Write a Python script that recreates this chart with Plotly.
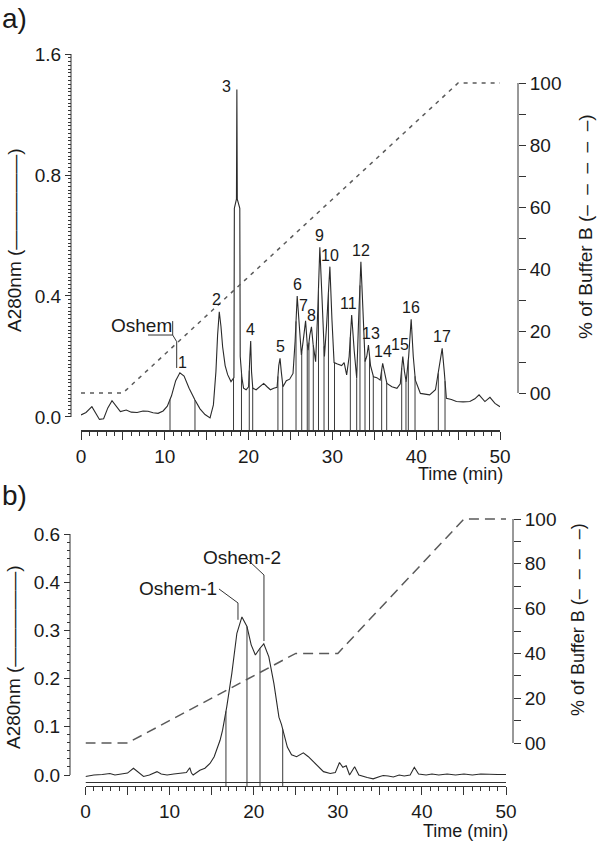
import numpy as np
import plotly.graph_objects as go

# ---------------- data: panel a ----------------
time_a = [0.0, 0.6, 1.3, 1.8, 2.2, 2.7, 3.2, 3.7, 4.2, 4.7, 5.4, 6.0, 6.7, 7.4, 8.0, 8.6, 9.2, 9.8,
          10.3, 10.8, 11.3, 11.8, 12.3, 12.9, 13.6, 14.2, 14.8, 15.4, 15.8, 16.1, 16.3, 16.5, 16.7,
          16.9, 17.2, 17.5, 17.9, 18.25, 18.3, 18.55, 18.6, 18.65, 18.95, 19.0, 19.2, 19.4, 19.7,
          20.0, 20.15, 20.25, 20.35, 20.5, 20.9, 21.3, 21.8, 22.2, 22.6, 23.0, 23.4, 23.6, 23.75,
          23.9, 24.1, 24.5, 24.9, 25.3, 25.55, 25.8, 26.0, 26.3, 26.55, 26.8, 27.0, 27.1, 27.3,
          27.5, 27.7, 28.0, 28.25, 28.5, 28.75, 29.05, 29.3, 29.7, 29.95, 30.2, 30.6, 31.1, 31.4,
          31.7, 32.0, 32.3, 32.6, 32.9, 33.1, 33.4, 33.65, 33.9, 34.1, 34.3, 34.55, 34.9, 35.3,
          35.7, 36.0, 36.25, 36.5, 37.1, 37.7, 38.1, 38.4, 38.6, 38.8, 39.1, 39.4, 39.65, 39.9,
          40.5, 41.0, 41.6, 42.3, 42.8, 43.1, 43.35, 43.6, 44.2, 44.8, 45.6, 46.4, 47.0, 47.5,
          48.2, 48.8, 49.4, 50.0]
abs_a = [0.007, 0.015, 0.034, 0.012, -0.008, -0.006, 0.03, 0.054, 0.035, 0.018, 0.023, 0.016, 0.015,
         0.02, 0.019, 0.014, 0.012, 0.02, 0.036, 0.07, 0.12, 0.146, 0.135, 0.095, 0.056, 0.027, 0.008,
         -0.003, 0.04, 0.15, 0.27, 0.348, 0.3, 0.232, 0.17, 0.14, 0.117, 0.13, 0.69, 0.72, 1.366,
         0.72, 0.69, 0.2, 0.13, 0.095, 0.09, 0.1, 0.2, 0.251, 0.15, 0.095, 0.09, 0.1, 0.111, 0.1,
         0.09, 0.095, 0.098, 0.17, 0.194, 0.15, 0.1, 0.12, 0.125, 0.144, 0.25, 0.4, 0.33, 0.205,
         0.26, 0.318, 0.24, 0.221, 0.27, 0.298, 0.24, 0.183, 0.35, 0.561, 0.4, 0.2, 0.3, 0.497,
         0.32, 0.18, 0.175, 0.17, 0.18, 0.139, 0.2, 0.337, 0.22, 0.128, 0.3, 0.513, 0.35, 0.183,
         0.2, 0.238, 0.17, 0.133, 0.13, 0.122, 0.177, 0.14, 0.111, 0.1, 0.095, 0.11, 0.2, 0.15,
         0.117, 0.2, 0.323, 0.2, 0.122, 0.078, 0.075, 0.073, 0.09, 0.17, 0.227, 0.15, 0.062, 0.058,
         0.051, 0.05, 0.051, 0.06, 0.073, 0.051, 0.065, 0.045, 0.034]
fractions_a = [10.62, 13.6, 18.2, 19.15, 20.08, 20.49, 23.5, 24.07, 25.66, 26.34, 27.0, 27.2,
               27.72, 28.34, 29.0, 29.53, 30.25, 32.14, 32.9, 33.29, 33.89, 34.43, 34.88, 35.88,
               36.48, 38.27, 38.78, 39.06, 39.86, 42.64, 43.44]
peak_labels_a = [str(i) for i in range(1, 18)]
peak_times_a = [11.8, 16.5, 18.6, 20.25, 23.75, 25.8, 26.8, 27.5, 28.5, 29.7, 32.3, 33.4, 34.3,
                36.0, 38.4, 39.4, 43.1]
grad_time_a = [0, 5, 45, 50]
grad_b_a = [0, 0, 100, 100]
yticks_a = ["0.0", "0.4", "0.8", "1.6"]

# ---------------- data: panel b ----------------
time_b = [0.0, 1.0, 2.0, 2.9, 3.5, 4.3, 5.0, 5.7, 6.3, 6.9, 7.6, 8.5, 9.0, 9.7, 10.5, 11.2, 12.0,
          12.4, 12.6, 12.8, 13.2, 13.6, 14.2, 14.8, 15.3, 15.6, 16.0, 16.3, 16.8, 17.4, 18.0, 18.6,
          19.2, 19.7, 20.2, 20.7, 21.2, 21.8, 22.4, 23.0, 23.3, 24.0, 24.5, 25.1, 25.9, 26.5, 27.1,
          27.7, 28.3, 29.1, 29.7, 30.2, 30.6, 31.0, 31.4, 32.0, 32.5, 33.5, 34.2, 35.0, 35.4, 36.0,
          36.6, 37.3, 37.9, 38.6, 39.1, 39.6, 40.5, 41.2, 42.0, 43.0, 44.0, 45.0, 46.0, 47.0, 48.0,
          49.0, 50.0]
abs_b = [-0.003, 0.0, 0.001, 0.003, 0.0, 0.002, 0.004, 0.014, 0.006, -0.003, 0.0, 0.007, 0.002, 0.0,
         0.002, 0.003, 0.005, 0.015, 0.004, 0.0, 0.006, 0.01, 0.014, 0.024, 0.038, 0.052, 0.072,
         0.093, 0.142, 0.211, 0.294, 0.328, 0.308, 0.27, 0.249, 0.262, 0.272, 0.245, 0.19, 0.12,
         0.105, 0.058, 0.042, 0.038, 0.046, 0.038, 0.028, 0.016, 0.007, 0.003, 0.005, 0.026, 0.016,
         0.019, 0.0, 0.017, 0.0, -0.005, -0.008, -0.003, -0.001, -0.002, -0.004, 0.0, -0.002, 0.0,
         0.016, 0.002, 0.0, 0.002, 0.0, 0.002, 0.0, 0.002, 0.0, 0.002, 0.001, 0.001, 0.001]
fractions_b = [16.7, 19.2, 20.75, 23.45]
grad_time_b = [0, 5, 25, 30, 45, 50]
grad_b_b = [0, 0, 40, 40, 100, 100]
yticks_b = ["0.0", "0.1", "0.2", "0.3", "0.4", "0.6"]

xtick_vals = list(range(0, 51, 5))
xtick_text = [str(v) if v % 10 == 0 else "" for v in xtick_vals]
btick_vals = list(range(0, 101, 10))
btick_text = ["00" if v == 0 else (str(v) if v % 20 == 0 else "") for v in btick_vals]


def disp(vals, brk):
    """compressed (half-scale) axis above the break value"""
    return [v if v <= brk else brk + (v - brk) / 2.0 for v in vals]


W, H = 600, 846
def px(x):
    return x / W
def py(y):
    return 1 - y / H

FONT = "Liberation Sans, Arial, sans-serif"
INK = "#1a1a1a"
LINE = "#2a2a2a"
GRAD = "#5a5a5a"

fig = go.Figure()

# ---- panel a traces ----
ya = disp(abs_a, 0.8)
ymin_a = -0.043
fig.add_trace(go.Scatter(x=time_a, y=ya, mode="lines", line=dict(color=LINE, width=1.1),
                         xaxis="x", yaxis="y", hoverinfo="skip", showlegend=False))
ftop_a = disp(np.interp(fractions_a, time_a, abs_a).tolist(), 0.8)
fx, fy = [], []
for t, top in zip(fractions_a, ftop_a):
    fx += [t, t, None]
    fy += [ymin_a, top, None]
fig.add_trace(go.Scatter(x=fx, y=fy, mode="lines", line=dict(color="#3a3a3a", width=1),
                         xaxis="x", yaxis="y", hoverinfo="skip", showlegend=False))
fig.add_trace(go.Scatter(x=grad_time_a, y=grad_b_a, mode="lines",
                         line=dict(color=GRAD, width=1.5, dash="4px,5px"),
                         xaxis="x", yaxis="y2", hoverinfo="skip", showlegend=False))

# ---- panel b traces ----
yb = disp(abs_b, 0.4)
ymin_b = -0.0228
fig.add_trace(go.Scatter(x=time_b, y=yb, mode="lines", line=dict(color=LINE, width=1.1),
                         xaxis="x2", yaxis="y3", hoverinfo="skip", showlegend=False))
ftop_b = disp(np.interp(fractions_b, time_b, abs_b).tolist(), 0.4)
fx, fy = [], []
for t, top in zip(fractions_b, ftop_b):
    fx += [t, t, None]
    fy += [ymin_b, top, None]
fig.add_trace(go.Scatter(x=fx, y=fy, mode="lines", line=dict(color="#3a3a3a", width=1),
                         xaxis="x2", yaxis="y3", hoverinfo="skip", showlegend=False))
fig.add_trace(go.Scatter(x=grad_time_b, y=grad_b_b, mode="lines",
                         line=dict(color=GRAD, width=1.5, dash="10px,6px"),
                         xaxis="x2", yaxis="y4", hoverinfo="skip", showlegend=False))

tickfont = dict(family=FONT, size=19, color=INK)


def xaxis_cfg(domain, anchor, lw):
    return dict(domain=domain, anchor=anchor, range=[0, 50], showgrid=False, zeroline=False,
                showline=True, linecolor="#333", linewidth=lw, ticks="outside",
                tickmode="array", tickvals=xtick_vals, ticktext=xtick_text, ticklen=8,
                tickwidth=1, tickcolor="#333", tickfont=tickfont,
                minor=dict(ticks="outside", tickmode="linear", tick0=0, dtick=1, ticklen=4,
                           tickcolor="#333", tickwidth=1, showgrid=False))


def yleft_cfg(domain, rng, pos, vals, text, minor_vals):
    return dict(domain=domain, anchor="free", position=pos, side="left", range=rng,
                showgrid=False, zeroline=False, showline=False, ticks="outside",
                tickmode="array", tickvals=vals, ticktext=text, ticklen=6, tickwidth=1,
                tickcolor="#333", tickfont=tickfont,
                minor=dict(ticks="outside", tickmode="array", tickvals=minor_vals, ticklen=3,
                           tickcolor="#333", tickwidth=1, showgrid=False))


def yright_cfg(domain, rng, pos):
    return dict(domain=domain, anchor="free", position=pos, side="right", range=rng,
                showgrid=False, zeroline=False, showline=False, ticks="outside",
                tickmode="array", tickvals=btick_vals, ticktext=btick_text, ticklen=7,
                tickwidth=1, tickcolor="#333", tickfont=tickfont)


minor_a = [round(v, 5) for v in np.arange(0, 1.2001, 0.0125)]
minor_b = [round(v, 5) for v in np.arange(0, 0.5001, 0.1 / 6)]

layout = dict(
    width=W, height=H, autosize=False,
    margin=dict(l=0, r=0, t=0, b=0, autoexpand=False),
    paper_bgcolor="white", plot_bgcolor="rgba(0,0,0,0)",
    font=dict(family=FONT, color=INK),
    showlegend=False,
    xaxis=xaxis_cfg([px(81), px(500)], "y", 2),
    yaxis=yleft_cfg([py(430), py(52)], [ymin_a, 1.2066], px(71), [0, 0.4, 0.8, 1.2], yticks_a, minor_a),
    yaxis2=yright_cfg([py(400), py(76)], [-2.258, 102.258], px(518)),
    xaxis2=xaxis_cfg([px(85.5), px(506)], "y3", 1),
    yaxis3=yleft_cfg([py(786), py(533)], [ymin_b, 0.5021], px(70), [0, 0.1, 0.2, 0.3, 0.4, 0.5], yticks_b, minor_b),
    yaxis4=yright_cfg([py(750), py(512)], [-3.125, 103.125], px(513)),
)
fig.update_layout(**layout)

shape_line = dict(color="#333", width=1)
shapes = [
    # axis spines (limited to tick range)
    dict(type="line", xref="paper", yref="y", x0=px(71), x1=px(71), y0=0, y1=1.2, line=shape_line),
    dict(type="line", xref="paper", yref="y2", x0=px(518), x1=px(518), y0=0, y1=100, line=shape_line),
    dict(type="line", xref="paper", yref="y3", x0=px(70), x1=px(70), y0=0, y1=0.5, line=shape_line),
    dict(type="line", xref="paper", yref="y4", x0=px(513), x1=px(513), y0=0, y1=100, line=shape_line),
    # double x-axis line in panel b
    dict(type="line", xref="x2", yref="paper", x0=0, x1=50, y0=py(782.5), y1=py(782.5), line=shape_line),
    # leader lines
    dict(type="path", xref="x", yref="y", line=shape_line,
         path="M 8.0,0.271 L 10.94,0.271 L 11.42,0.249 L 11.42,0.162 M 10.94,0.271 L 10.94,0.317"),
    dict(type="path", xref="x2", yref="y3", line=shape_line,
         path="M 15.87,0.386 L 18.13,0.357 L 18.13,0.322"),
    dict(type="path", xref="x2", yref="y3", line=shape_line,
         path="M 19.08,0.45 L 21.22,0.415 L 21.22,0.278"),
]
fig.update_layout(shapes=shapes)

ann = []
def txt(x, y, s, size=19, xref="paper", yref="paper", **kw):
    d = dict(x=x, y=y, text=s, xref=xref, yref=yref, showarrow=False,
             xanchor="center", yanchor="middle",
             font=dict(family=FONT, size=size, color=INK))
    d.update(kw)
    ann.append(d)

txt(px(14), py(19), "a)", size=28)
txt(px(14), py(495), "b)", size=28)
txt(px(505), py(474), "Time (min)", xanchor="right", size=18)
txt(px(510), py(831), "Time (min)", xanchor="right", size=18)
txt(px(15), py(240), "A280nm (\u2014\u2014\u2014\u2014\u2014)", textangle=-90)
txt(px(13), py(657), "A280nm (\u2014\u2014\u2014\u2014\u2014)", textangle=-90)
txt(px(585), py(227), "% of Buffer B (\u2013 \u00a0\u2013 \u00a0\u2013 \u00a0\u2013 \u00a0\u2013)", textangle=-90)
txt(px(578), py(620), "% of Buffer B (\u2013 \u00a0\u2013 \u00a0\u2013 \u00a0\u2013)", size=18, textangle=-90)
txt(7.24, 0.302, "Oshem", xref="x", yref="y")
txt(10.94, 0.388, "Oshem-1", xref="x2", yref="y3")
txt(18.6, 0.452, "Oshem-2", xref="x2", yref="y3")

apex_a = disp(np.interp(peak_times_a, time_a, abs_a).tolist(), 0.8)
offsets = {"1": (3, 0), "2": (-3, 2), "7": (-2, 5), "11": (-3, 1), "13": (3, 1), "15": (-3, 1)}
for lab, t, v in zip(peak_labels_a, peak_times_a, apex_a):
    if lab == "3":
        txt(t, v, lab, size=16, xref="x", yref="y", xanchor="right", yanchor="middle",
            xshift=-4, yshift=3)
        continue
    dx, dy = offsets.get(lab, (0, 1))
    txt(t, v, lab, size=16, xref="x", yref="y", xanchor="center", yanchor="bottom",
        xshift=dx, yshift=dy)

fig.update_layout(annotations=ann)
fig.write_html("out.html", config={"displayModeBar": False},
               post_script="document.body.style.margin='0';document.body.style.padding='0';")
